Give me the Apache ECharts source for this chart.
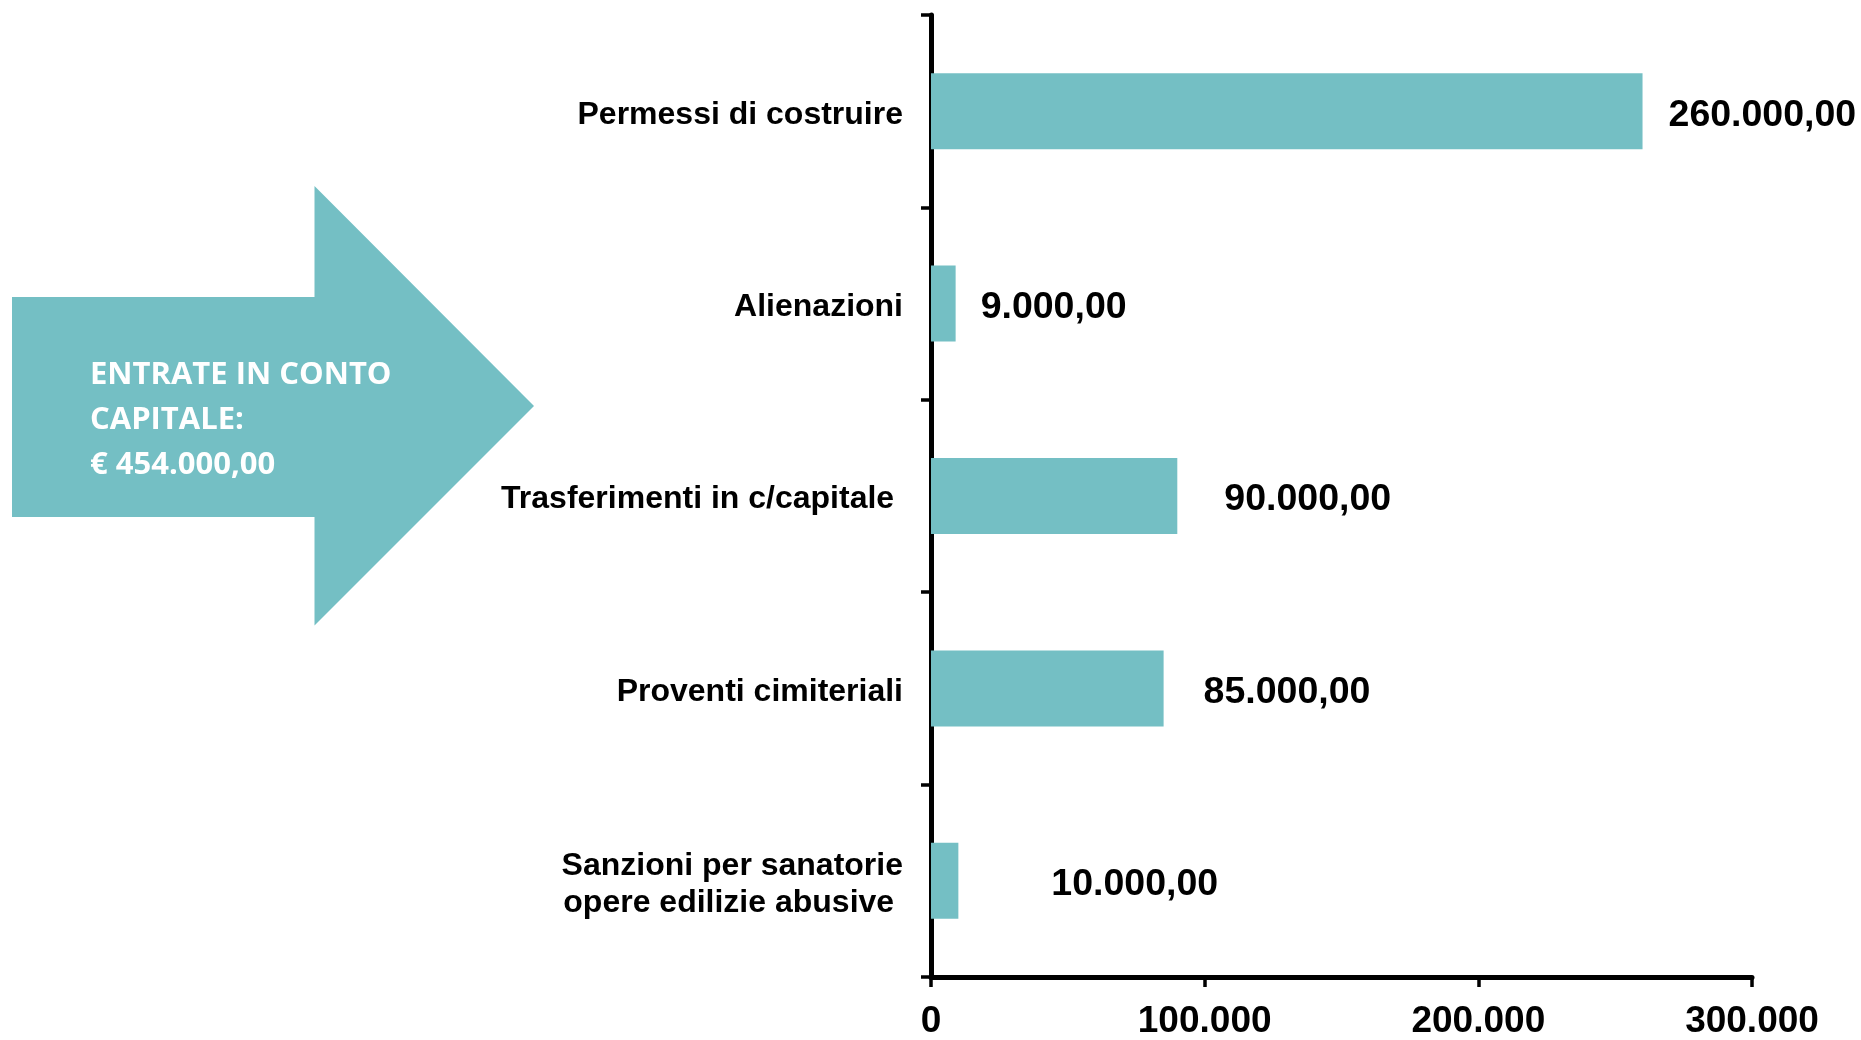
<!DOCTYPE html>
<html>
<head>
<meta charset="utf-8">
<script src="https://cdn.jsdelivr.net/npm/echarts@6/dist/echarts.min.js"></script>
<style>
html,body{margin:0;padding:0;background:#fff;}
#main{width:1861px;height:1040px;}
</style>
</head>
<body>
<div id="main"></div>
<script>
// Data
const categories = ['Permessi di costruire', 'Alienazioni', 'Trasferimenti in c/capitale ', 'Proventi cimiteriali', 'Sanzioni per sanatorie\nopere edilizie abusive '];
const values = [260000, 9000, 90000, 85000, 10000];
const xTickValues = [0, 100000, 200000, 300000];
const totalText = ['ENTRATE IN CONTO', 'CAPITALE:', '€ 454.000,00'];

// label gaps (styling, px)
const labelGaps = [26, 25, 47, 40, 93];

function fmtThousands(n) {
  return String(Math.round(n)).replace(/\B(?=(\d{3})+(?!\d))/g, '.');
}
function fmtEuro(n) {
  return fmtThousands(n) + ',00';
}

const teal = '#74BFC4';
const chart = echarts.init(document.getElementById('main'), null, {renderer: 'canvas'});

const option = {
  backgroundColor: '#ffffff',
  animation: false,
  grid: {left: 931, right: 109, top: 15, bottom: 60, containLabel: false},
  xAxis: {
    type: 'value',
    min: 0,
    max: 300000,
    interval: 100000,
    axisLine: {show: true, lineStyle: {color: '#000', width: 5}},
    axisTick: {show: true, length: 10, lineStyle: {color: '#000', width: 3.5}},
    splitLine: {show: false},
    axisLabel: {
      margin: 26,
      color: '#000',
      fontFamily: 'Liberation Sans',
      fontWeight: 'bold',
      fontSize: 37,
      formatter: v => fmtThousands(v)
    }
  },
  yAxis: {
    type: 'category',
    inverse: true,
    data: categories,
    axisLine: {show: true, lineStyle: {color: '#000', width: 5}},
    axisTick: {show: true, length: 10, lineStyle: {color: '#000', width: 3.5}},
    axisLabel: {
      margin: 28,
      color: '#000',
      formatter: v => '{s| }\n' + v.split('\n').map(l => '{t|' + l + '}').join('\n'),
      rich: {
        s: {fontSize: 4, lineHeight: 7},
        t: {
          fontFamily: 'Liberation Sans',
          fontWeight: 'bold',
          fontSize: 32,
          lineHeight: 37,
          color: '#000'
        }
      }
    }
  },
  series: [{
    type: 'bar',
    barWidth: 76,
    itemStyle: {color: teal},
    data: values.map((v, i) => ({
      value: v,
      label: {distance: labelGaps[i]}
    })),
    label: {
      show: true,
      position: 'right',
      offset: [0, 4],
      color: '#000',
      fontFamily: 'Liberation Sans',
      fontWeight: 'bold',
      fontSize: 37.5,
      formatter: p => fmtEuro(p.value)
    }
  }],
  graphic: [
    {
      type: 'polygon',
      shape: {
        points: [[12, 297], [314.5, 297], [314.5, 186], [534, 406], [314.5, 625.5], [314.5, 517], [12, 517]]
      },
      style: {fill: teal}
    },
    {
      type: 'text',
      left: 90,
      top: 353,
      style: {
        text: totalText.join('\n'),
        fill: '#fff',
        font: 'bold 31px "Open Sans"',
        lineHeight: 45
      }
    }
  ]
};
chart.setOption(option);
</script>
</body>
</html>
